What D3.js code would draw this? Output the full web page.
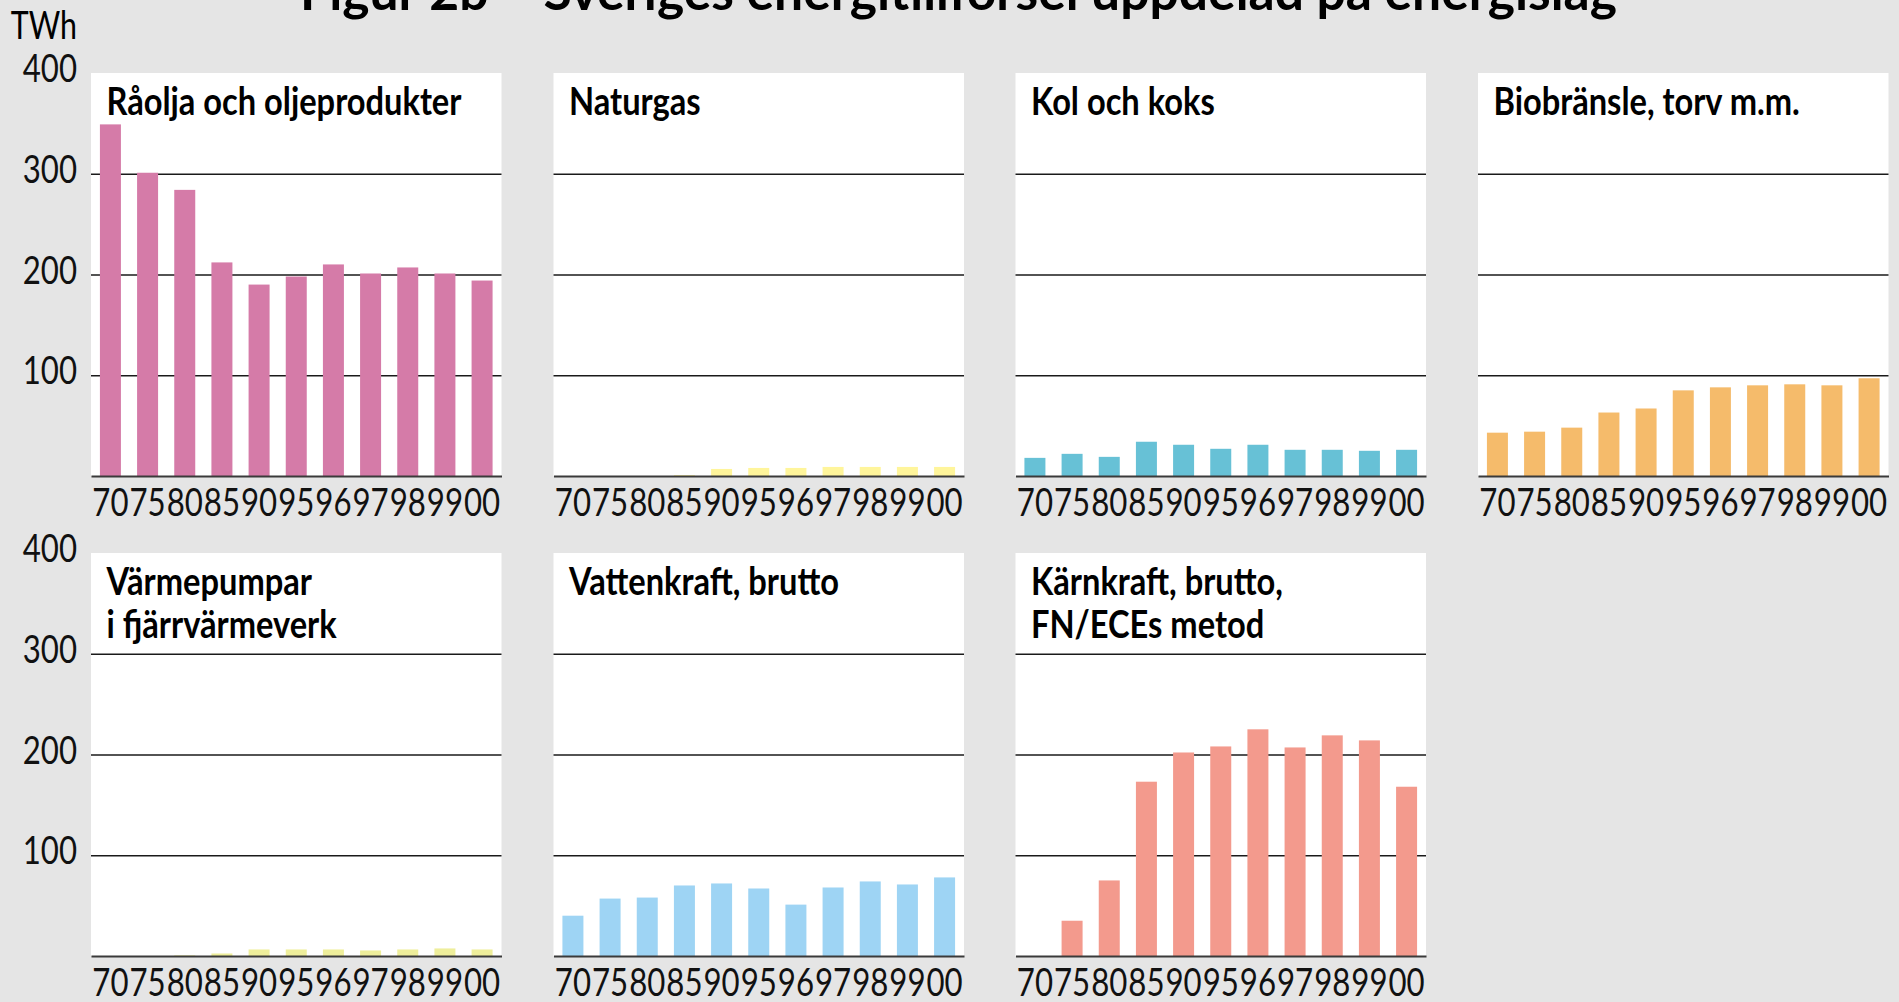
<!DOCTYPE html>
<html>
<head>
<meta charset="utf-8">
<script src="https://cdn.jsdelivr.net/npm/d3@7"></script>
<style>
  body { margin: 0; background: #e5e5e5; }
  text { font-family: "Lato", "DejaVu Sans", sans-serif; }
</style>
</head>
<body>
<svg id="chart"></svg>
<script>
// years along the bottom of every panel
const years = ["70", "75", "80", "85", "90", "95", "96", "97", "98", "99", "00"];
const yTicks = [100, 200, 300, 400];
const gridTicks = [100, 200, 300];

const panelTitles = [
  ["Råolja och oljeprodukter"],
  ["Naturgas"],
  ["Kol och koks"],
  ["Biobränsle, torv m.m."],
  ["Värmepumpar", "i fjärrvärmeverk"],
  ["Vattenkraft, brutto"],
  ["Kärnkraft, brutto,", "FN/ECEs metod"]
];

// TWh
const raolja      = [349, 301, 284, 212, 190, 198, 210, 201, 207, 201, 194];
const naturgas    = [0, 0, 0, 0.8, 7, 8, 8, 9, 9, 9, 9];
const kolKoks     = [18, 22, 19, 34, 31, 27, 31, 26, 26, 25, 26];
const biobransle  = [43, 44, 48, 63, 67, 85, 88, 90, 91, 90, 97];
const varmepumpar = [0, 0, 0.6, 2.5, 6.5, 6.5, 6.5, 5.5, 6.5, 7.5, 6.5];
const vattenkraft = [40, 57, 58, 70, 72, 67, 51, 68, 74, 71, 78];
const karnkraft   = [0, 35, 75, 173, 202, 208, 225, 207, 219, 214, 168];

const series = [raolja, naturgas, kolKoks, biobransle, varmepumpar, vattenkraft, karnkraft];
const colors = ["#d57ba8", "#fff59b", "#67c1d6", "#f5bb6b", "#eeee9b", "#9ed4f4", "#f39a8d"];

const W = 1899, H = 1002;
const colX = [91, 553.5, 1015.5, 1478];
const rowTop = [73, 553];
const panelW = 410.5, panelH = 403;
const numScale = 0.8;    // squeeze the light digits
const headScale = 0.87;  // squeeze the bold headings

const svg = d3.select("#chart").attr("width", W).attr("height", H);
svg.append("rect").attr("width", W).attr("height", H).attr("fill", "#e5e5e5");

svg.append("text")
  .attr("x", 300).attr("y", 10)
  .attr("font-size", 52).attr("font-weight", 700)
  .attr("textLength", 1317).attr("lengthAdjust", "spacingAndGlyphs")
  .text("Figur 2b – Sveriges energitillförsel uppdelad på energislag");

svg.append("text")
  .attr("transform", `translate(77,39) scale(${numScale},1)`)
  .attr("text-anchor", "end").attr("font-size", 38)
  .text("TWh");

series.forEach((vals, i) => {
  const col = i % 4, row = Math.floor(i / 4);
  const g = svg.append("g").attr("transform", `translate(${colX[col]},${rowTop[row]})`);

  const x = d3.scaleBand().domain(years).range([0, panelW]).paddingInner(0.435).paddingOuter(0.24);
  const y = d3.scaleLinear().domain([0, 400]).range([panelH, 0]);

  g.append("rect").attr("width", panelW).attr("height", panelH).attr("fill", "#fff");

  // grid lines
  g.append("g")
    .call(d3.axisLeft(y).tickValues(gridTicks).tickSize(-panelW).tickFormat(""))
    .call(a => a.select(".domain").remove())
    .selectAll("line").attr("stroke", "#1a1a1a").attr("stroke-width", 1.3);

  g.selectAll(".bar").data(vals).join("rect")
    .attr("class", "bar")
    .attr("x", (d, j) => x(years[j]))
    .attr("y", d => y(d))
    .attr("width", x.bandwidth())
    .attr("height", d => panelH - y(d))
    .attr("fill", colors[i]);

  // bottom axis
  const xa = g.append("g").attr("transform", `translate(0,${panelH})`)
    .call(d3.axisBottom(x).tickSize(0).tickSizeOuter(0));
  xa.select(".domain").attr("stroke", "#3a3a3a").attr("stroke-width", 2);
  xa.selectAll("text")
    .attr("y", 40).attr("dy", null)
    .attr("transform", `scale(${numScale},1)`)
    .attr("font-size", 39).attr("fill", "#111")
    .style("font-family", "Lato, 'DejaVu Sans', sans-serif");

  if (col === 0) {
    const ya = g.append("g").call(d3.axisLeft(y).tickValues(yTicks).tickSize(0));
    ya.select(".domain").remove();
    ya.selectAll("text")
      .attr("x", -14 / numScale).attr("y", 8.5).attr("dy", null)
      .attr("transform", `scale(${numScale},1)`)
      .attr("font-size", 39).attr("fill", "#111")
      .style("font-family", "Lato, 'DejaVu Sans', sans-serif");
  }

  panelTitles[i].forEach((line, k) => {
    g.append("text")
      .attr("transform", `translate(15.5,${42 + k * 43}) scale(${headScale},1)`)
      .attr("font-size", 37.5).attr("font-weight", 700).attr("fill", "#000")
      .text(line);
  });
});
</script>
</body>
</html>
